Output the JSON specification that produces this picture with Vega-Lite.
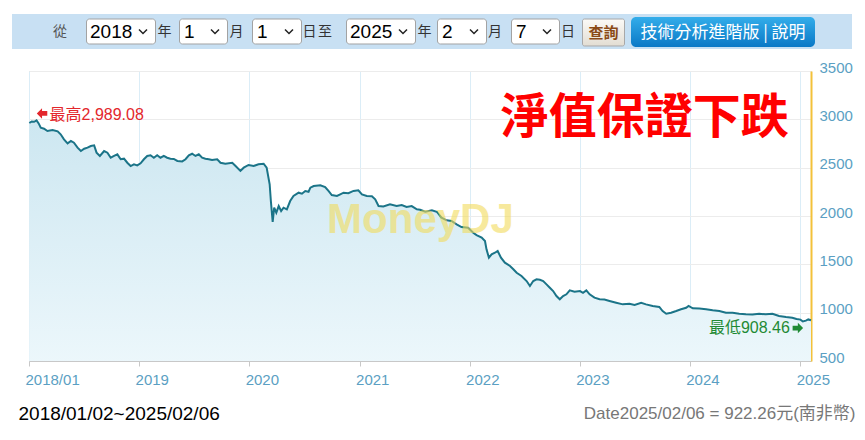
{
  "$schema": "https://vega.github.io/schema/vega-lite/v6.json",
  "background": "white",
  "padding": {"left": 12, "top": 14, "right": 0, "bottom": 0},
  "config": {
    "view": {"stroke": null},
    "axis": {"labelFont": "Liberation Sans", "titleFont": "Liberation Sans"},
    "text": {"font": "Liberation Sans"}
  },
  "spacing": 10,
  "vconcat": [
    {
      "hconcat": [
        {"width": 40, "height": 35, "view": {"fill": "#c8e0f3", "stroke": null}, "data": {"values": [{"t": ""}]}, "mark": {"type": "text"}, "encoding": {"text": {"field": "t"}}},
        {"width": 16, "height": 35, "view": {"fill": "#c8e0f3", "stroke": null}, "data": {"values": [{"t": "從"}]}, "mark": {"type": "text", "font": "Noto Sans CJK TC", "fontSize": 14, "color": "#555555"}, "encoding": {"text": {"field": "t"}}},
        {"width": 18, "height": 35, "view": {"fill": "#c8e0f3", "stroke": null}, "data": {"values": [{"t": ""}]}, "mark": {"type": "text"}, "encoding": {"text": {"field": "t"}}},
        {
          "width": 70, "height": 35, "view": {"fill": "#c8e0f3", "stroke": null}, "data": {"values": [{"t": "2018"}]},
          "encoding": {"x": {"datum": 0, "type": "quantitative", "scale": {"domain": [0, 1]}, "axis": null}, "y": {"datum": 0.5, "type": "quantitative", "scale": {"domain": [0, 1]}, "axis": null}},
          "layer": [
            {"mark": {"type": "rect", "fill": "#ffffff", "stroke": "#a3a3a3", "strokeWidth": 1, "cornerRadius": 3, "xOffset": 0.5, "x2Offset": -0.5}, "encoding": {"x2": {"datum": 1}, "y": {"datum": 0.857}, "y2": {"datum": 0.143}}},
            {"mark": {"type": "text", "align": "left", "dx": 4, "fontSize": 19, "color": "#000000"}, "encoding": {"text": {"field": "t"}}},
            {"mark": {"type": "point", "shape": "M -1 -0.5 L 0 0.5 L 1 -0.5", "filled": false, "stroke": "#222222", "strokeWidth": 1.5, "size": 64, "opacity": 1, "xOffset": -13}, "encoding": {"x": {"datum": 1}}}
          ]
        },
        {"width": 17, "height": 35, "view": {"fill": "#c8e0f3", "stroke": null}, "data": {"values": [{"t": "年"}]}, "mark": {"type": "text", "font": "Noto Sans CJK TC", "fontSize": 14, "color": "#333333"}, "encoding": {"text": {"field": "t"}}},
        {"width": 6, "height": 35, "view": {"fill": "#c8e0f3", "stroke": null}, "data": {"values": [{"t": ""}]}, "mark": {"type": "text"}, "encoding": {"text": {"field": "t"}}},
        {
          "width": 49, "height": 35, "view": {"fill": "#c8e0f3", "stroke": null}, "data": {"values": [{"t": "1"}]},
          "encoding": {"x": {"datum": 0, "type": "quantitative", "scale": {"domain": [0, 1]}, "axis": null}, "y": {"datum": 0.5, "type": "quantitative", "scale": {"domain": [0, 1]}, "axis": null}},
          "layer": [
            {"mark": {"type": "rect", "fill": "#ffffff", "stroke": "#a3a3a3", "strokeWidth": 1, "cornerRadius": 3, "xOffset": 0.5, "x2Offset": -0.5}, "encoding": {"x2": {"datum": 1}, "y": {"datum": 0.857}, "y2": {"datum": 0.143}}},
            {"mark": {"type": "text", "align": "left", "dx": 5, "fontSize": 19, "color": "#000000"}, "encoding": {"text": {"field": "t"}}},
            {"mark": {"type": "point", "shape": "M -1 -0.5 L 0 0.5 L 1 -0.5", "filled": false, "stroke": "#222222", "strokeWidth": 1.5, "size": 64, "opacity": 1, "xOffset": -13}, "encoding": {"x": {"datum": 1}}}
          ]
        },
        {"width": 17, "height": 35, "view": {"fill": "#c8e0f3", "stroke": null}, "data": {"values": [{"t": "月"}]}, "mark": {"type": "text", "font": "Noto Sans CJK TC", "fontSize": 14, "color": "#333333"}, "encoding": {"text": {"field": "t"}}},
        {"width": 7, "height": 35, "view": {"fill": "#c8e0f3", "stroke": null}, "data": {"values": [{"t": ""}]}, "mark": {"type": "text"}, "encoding": {"text": {"field": "t"}}},
        {
          "width": 50, "height": 35, "view": {"fill": "#c8e0f3", "stroke": null}, "data": {"values": [{"t": "1"}]},
          "encoding": {"x": {"datum": 0, "type": "quantitative", "scale": {"domain": [0, 1]}, "axis": null}, "y": {"datum": 0.5, "type": "quantitative", "scale": {"domain": [0, 1]}, "axis": null}},
          "layer": [
            {"mark": {"type": "rect", "fill": "#ffffff", "stroke": "#a3a3a3", "strokeWidth": 1, "cornerRadius": 3, "xOffset": 0.5, "x2Offset": -0.5}, "encoding": {"x2": {"datum": 1}, "y": {"datum": 0.857}, "y2": {"datum": 0.143}}},
            {"mark": {"type": "text", "align": "left", "dx": 5, "fontSize": 19, "color": "#000000"}, "encoding": {"text": {"field": "t"}}},
            {"mark": {"type": "point", "shape": "M -1 -0.5 L 0 0.5 L 1 -0.5", "filled": false, "stroke": "#222222", "strokeWidth": 1.5, "size": 64, "opacity": 1, "xOffset": -13}, "encoding": {"x": {"datum": 1}}}
          ]
        },
        {"width": 15, "height": 35, "view": {"fill": "#c8e0f3", "stroke": null}, "data": {"values": [{"t": "日"}]}, "mark": {"type": "text", "font": "Noto Sans CJK TC", "fontSize": 14, "color": "#333333"}, "encoding": {"text": {"field": "t"}}},
        {"width": 16, "height": 35, "view": {"fill": "#c8e0f3", "stroke": null}, "data": {"values": [{"t": "至"}]}, "mark": {"type": "text", "font": "Noto Sans CJK TC", "fontSize": 14, "color": "#333333"}, "encoding": {"text": {"field": "t"}}},
        {"width": 13, "height": 35, "view": {"fill": "#c8e0f3", "stroke": null}, "data": {"values": [{"t": ""}]}, "mark": {"type": "text"}, "encoding": {"text": {"field": "t"}}},
        {
          "width": 70, "height": 35, "view": {"fill": "#c8e0f3", "stroke": null}, "data": {"values": [{"t": "2025"}]},
          "encoding": {"x": {"datum": 0, "type": "quantitative", "scale": {"domain": [0, 1]}, "axis": null}, "y": {"datum": 0.5, "type": "quantitative", "scale": {"domain": [0, 1]}, "axis": null}},
          "layer": [
            {"mark": {"type": "rect", "fill": "#ffffff", "stroke": "#a3a3a3", "strokeWidth": 1, "cornerRadius": 3, "xOffset": 0.5, "x2Offset": -0.5}, "encoding": {"x2": {"datum": 1}, "y": {"datum": 0.857}, "y2": {"datum": 0.143}}},
            {"mark": {"type": "text", "align": "left", "dx": 4, "fontSize": 19, "color": "#000000"}, "encoding": {"text": {"field": "t"}}},
            {"mark": {"type": "point", "shape": "M -1 -0.5 L 0 0.5 L 1 -0.5", "filled": false, "stroke": "#222222", "strokeWidth": 1.5, "size": 64, "opacity": 1, "xOffset": -13}, "encoding": {"x": {"datum": 1}}}
          ]
        },
        {"width": 17, "height": 35, "view": {"fill": "#c8e0f3", "stroke": null}, "data": {"values": [{"t": "年"}]}, "mark": {"type": "text", "font": "Noto Sans CJK TC", "fontSize": 14, "color": "#333333"}, "encoding": {"text": {"field": "t"}}},
        {"width": 4, "height": 35, "view": {"fill": "#c8e0f3", "stroke": null}, "data": {"values": [{"t": ""}]}, "mark": {"type": "text"}, "encoding": {"text": {"field": "t"}}},
        {
          "width": 50, "height": 35, "view": {"fill": "#c8e0f3", "stroke": null}, "data": {"values": [{"t": "2"}]},
          "encoding": {"x": {"datum": 0, "type": "quantitative", "scale": {"domain": [0, 1]}, "axis": null}, "y": {"datum": 0.5, "type": "quantitative", "scale": {"domain": [0, 1]}, "axis": null}},
          "layer": [
            {"mark": {"type": "rect", "fill": "#ffffff", "stroke": "#a3a3a3", "strokeWidth": 1, "cornerRadius": 3, "xOffset": 0.5, "x2Offset": -0.5}, "encoding": {"x2": {"datum": 1}, "y": {"datum": 0.857}, "y2": {"datum": 0.143}}},
            {"mark": {"type": "text", "align": "left", "dx": 5, "fontSize": 19, "color": "#000000"}, "encoding": {"text": {"field": "t"}}},
            {"mark": {"type": "point", "shape": "M -1 -0.5 L 0 0.5 L 1 -0.5", "filled": false, "stroke": "#222222", "strokeWidth": 1.5, "size": 64, "opacity": 1, "xOffset": -13}, "encoding": {"x": {"datum": 1}}}
          ]
        },
        {"width": 16, "height": 35, "view": {"fill": "#c8e0f3", "stroke": null}, "data": {"values": [{"t": "月"}]}, "mark": {"type": "text", "font": "Noto Sans CJK TC", "fontSize": 14, "color": "#333333"}, "encoding": {"text": {"field": "t"}}},
        {"width": 8, "height": 35, "view": {"fill": "#c8e0f3", "stroke": null}, "data": {"values": [{"t": ""}]}, "mark": {"type": "text"}, "encoding": {"text": {"field": "t"}}},
        {
          "width": 49, "height": 35, "view": {"fill": "#c8e0f3", "stroke": null}, "data": {"values": [{"t": "7"}]},
          "encoding": {"x": {"datum": 0, "type": "quantitative", "scale": {"domain": [0, 1]}, "axis": null}, "y": {"datum": 0.5, "type": "quantitative", "scale": {"domain": [0, 1]}, "axis": null}},
          "layer": [
            {"mark": {"type": "rect", "fill": "#ffffff", "stroke": "#a3a3a3", "strokeWidth": 1, "cornerRadius": 3, "xOffset": 0.5, "x2Offset": -0.5}, "encoding": {"x2": {"datum": 1}, "y": {"datum": 0.857}, "y2": {"datum": 0.143}}},
            {"mark": {"type": "text", "align": "left", "dx": 5, "fontSize": 19, "color": "#000000"}, "encoding": {"text": {"field": "t"}}},
            {"mark": {"type": "point", "shape": "M -1 -0.5 L 0 0.5 L 1 -0.5", "filled": false, "stroke": "#222222", "strokeWidth": 1.5, "size": 64, "opacity": 1, "xOffset": -13}, "encoding": {"x": {"datum": 1}}}
          ]
        },
        {"width": 16, "height": 35, "view": {"fill": "#c8e0f3", "stroke": null}, "data": {"values": [{"t": "日"}]}, "mark": {"type": "text", "font": "Noto Sans CJK TC", "fontSize": 14, "color": "#333333"}, "encoding": {"text": {"field": "t"}}},
        {"width": 6, "height": 35, "view": {"fill": "#c8e0f3", "stroke": null}, "data": {"values": [{"t": ""}]}, "mark": {"type": "text"}, "encoding": {"text": {"field": "t"}}},
        {
          "width": 43, "height": 35, "view": {"fill": "#c8e0f3", "stroke": null}, "data": {"values": [{"t": "查詢"}]},
          "layer": [
            {"mark": {"type": "rect", "fill": {"gradient": "linear", "x1": 0, "y1": 0, "x2": 0, "y2": 1, "stops": [{"offset": 0, "color": "#fbfaf7"}, {"offset": 1, "color": "#e2ddd3"}]}, "stroke": "#a8a8a8", "strokeWidth": 1, "cornerRadius": 2, "xOffset": 0.5, "x2Offset": -0.5},
             "encoding": {"x": {"datum": 0, "type": "quantitative", "scale": {"domain": [0, 1]}, "axis": null}, "x2": {"datum": 1}, "y": {"datum": 0.857, "type": "quantitative", "scale": {"domain": [0, 1]}, "axis": null}, "y2": {"datum": 0.086}}},
            {"mark": {"type": "text", "font": "Noto Sans CJK TC", "fontSize": 15, "fontWeight": "bold", "color": "#8a4a16", "dy": 1}, "encoding": {"text": {"field": "t"}}}
          ]
        },
        {"width": 6, "height": 35, "view": {"fill": "#c8e0f3", "stroke": null}, "data": {"values": [{"t": ""}]}, "mark": {"type": "text"}, "encoding": {"text": {"field": "t"}}},
        {
          "width": 184, "height": 35, "view": {"fill": "#c8e0f3", "stroke": null}, "data": {"values": [{"t": "技術分析進階版 | 說明"}]},
          "layer": [
            {"mark": {"type": "rect", "fill": {"gradient": "linear", "x1": 0, "y1": 0, "x2": 0, "y2": 1, "stops": [{"offset": 0, "color": "#33adea"}, {"offset": 1, "color": "#0a78c6"}]}, "cornerRadius": 5},
             "encoding": {"x": {"datum": 0, "type": "quantitative", "scale": {"domain": [0, 1]}, "axis": null}, "x2": {"datum": 1}, "y": {"datum": 0.914, "type": "quantitative", "scale": {"domain": [0, 1]}, "axis": null}, "y2": {"datum": 0.057}}},
            {"mark": {"type": "text", "font": "Noto Sans CJK TC", "fontSize": 17, "color": "#ffffff", "dy": 1}, "encoding": {"text": {"field": "t"}}}
          ]
        },
        {"width": 37, "height": 35, "view": {"fill": "#c8e0f3", "stroke": null}, "data": {"values": [{"t": ""}]}, "mark": {"type": "text"}, "encoding": {"text": {"field": "t"}}}
      ],
      "spacing": 0,
      "bounds": "flush",
      "resolve": {"scale": {"x": "independent", "y": "independent"}}
    },
    {
      "hconcat": [
        {"width": 17, "height": 290, "view": {"fill": null, "stroke": null}, "data": {"values": [{"t": ""}]}, "mark": {"type": "text"}, "encoding": {"text": {"field": "t"}}},
        {
          "width": 782,
          "height": 290,
          "view": {"stroke": "#d9d9d9", "fill": null},
          "data": {"values": [
            {"date": "2018/01/02", "value": 2962}, {"date": "2018/01/10", "value": 2978}, {"date": "2018/01/18", "value": 2975}, {"date": "2018/01/26", "value": 2989.08},
            {"date": "2018/02/02", "value": 2958}, {"date": "2018/02/09", "value": 2913}, {"date": "2018/02/20", "value": 2903}, {"date": "2018/03/03", "value": 2879},
            {"date": "2018/03/20", "value": 2890}, {"date": "2018/04/06", "value": 2876}, {"date": "2018/04/16", "value": 2845}, {"date": "2018/04/27", "value": 2793},
            {"date": "2018/05/09", "value": 2752}, {"date": "2018/05/20", "value": 2776}, {"date": "2018/05/30", "value": 2758}, {"date": "2018/06/11", "value": 2707},
            {"date": "2018/06/22", "value": 2672}, {"date": "2018/07/03", "value": 2696}, {"date": "2018/07/14", "value": 2707}, {"date": "2018/07/25", "value": 2724},
            {"date": "2018/08/05", "value": 2731}, {"date": "2018/08/13", "value": 2655}, {"date": "2018/08/24", "value": 2621}, {"date": "2018/09/07", "value": 2672},
            {"date": "2018/09/18", "value": 2655}, {"date": "2018/09/29", "value": 2603}, {"date": "2018/10/10", "value": 2621}, {"date": "2018/10/21", "value": 2638},
            {"date": "2018/11/01", "value": 2587}, {"date": "2018/11/12", "value": 2593}, {"date": "2018/11/23", "value": 2551}, {"date": "2018/12/04", "value": 2517},
            {"date": "2018/12/15", "value": 2535}, {"date": "2018/12/26", "value": 2524}, {"date": "2019/01/06", "value": 2545}, {"date": "2019/01/17", "value": 2587},
            {"date": "2019/01/28", "value": 2621}, {"date": "2019/02/08", "value": 2628}, {"date": "2019/02/19", "value": 2603}, {"date": "2019/03/02", "value": 2628},
            {"date": "2019/03/13", "value": 2603}, {"date": "2019/03/24", "value": 2621}, {"date": "2019/04/04", "value": 2603}, {"date": "2019/04/15", "value": 2593},
            {"date": "2019/04/26", "value": 2590}, {"date": "2019/05/08", "value": 2569}, {"date": "2019/05/24", "value": 2565}, {"date": "2019/06/04", "value": 2587},
            {"date": "2019/06/15", "value": 2628}, {"date": "2019/06/26", "value": 2644}, {"date": "2019/07/07", "value": 2621}, {"date": "2019/07/18", "value": 2638},
            {"date": "2019/07/29", "value": 2603}, {"date": "2019/08/09", "value": 2593}, {"date": "2019/08/20", "value": 2587}, {"date": "2019/08/31", "value": 2579},
            {"date": "2019/09/17", "value": 2587}, {"date": "2019/09/28", "value": 2551}, {"date": "2019/10/14", "value": 2541}, {"date": "2019/11/06", "value": 2551},
            {"date": "2019/11/17", "value": 2517}, {"date": "2019/12/03", "value": 2466}, {"date": "2019/12/14", "value": 2500}, {"date": "2019/12/30", "value": 2528},
            {"date": "2020/01/16", "value": 2517}, {"date": "2020/02/01", "value": 2535}, {"date": "2020/02/18", "value": 2541}, {"date": "2020/02/28", "value": 2500},
            {"date": "2020/03/09", "value": 2328}, {"date": "2020/03/13", "value": 2155}, {"date": "2020/03/19", "value": 1940}, {"date": "2020/03/24", "value": 2086},
            {"date": "2020/03/31", "value": 2034}, {"date": "2020/04/08", "value": 2103}, {"date": "2020/04/16", "value": 2052}, {"date": "2020/04/24", "value": 2086},
            {"date": "2020/05/05", "value": 2069}, {"date": "2020/05/16", "value": 2155}, {"date": "2020/05/27", "value": 2207}, {"date": "2020/06/13", "value": 2241},
            {"date": "2020/06/24", "value": 2231}, {"date": "2020/07/05", "value": 2259}, {"date": "2020/07/16", "value": 2251}, {"date": "2020/07/22", "value": 2293},
            {"date": "2020/08/02", "value": 2310}, {"date": "2020/08/24", "value": 2318}, {"date": "2020/09/09", "value": 2300}, {"date": "2020/09/20", "value": 2259},
            {"date": "2020/10/01", "value": 2217}, {"date": "2020/10/18", "value": 2207}, {"date": "2020/10/29", "value": 2224}, {"date": "2020/11/09", "value": 2241},
            {"date": "2020/11/25", "value": 2235}, {"date": "2020/12/12", "value": 2259}, {"date": "2020/12/28", "value": 2266}, {"date": "2021/01/09", "value": 2224},
            {"date": "2021/01/25", "value": 2207}, {"date": "2021/02/11", "value": 2205}, {"date": "2021/02/22", "value": 2173}, {"date": "2021/03/05", "value": 2103},
            {"date": "2021/03/21", "value": 2098}, {"date": "2021/04/12", "value": 2121}, {"date": "2021/05/04", "value": 2103}, {"date": "2021/05/21", "value": 2114},
            {"date": "2021/06/06", "value": 2093}, {"date": "2021/06/23", "value": 2103}, {"date": "2021/07/10", "value": 2069}, {"date": "2021/07/21", "value": 2065},
            {"date": "2021/08/07", "value": 2044}, {"date": "2021/08/29", "value": 2059}, {"date": "2021/09/14", "value": 2044}, {"date": "2021/09/30", "value": 1982},
            {"date": "2021/10/17", "value": 1955}, {"date": "2021/11/02", "value": 1948}, {"date": "2021/11/19", "value": 1914}, {"date": "2021/12/05", "value": 1886},
            {"date": "2021/12/27", "value": 1879}, {"date": "2022/01/13", "value": 1827}, {"date": "2022/01/24", "value": 1803}, {"date": "2022/02/10", "value": 1776},
            {"date": "2022/02/21", "value": 1741}, {"date": "2022/02/26", "value": 1655}, {"date": "2022/03/06", "value": 1569}, {"date": "2022/03/15", "value": 1604},
            {"date": "2022/03/26", "value": 1620}, {"date": "2022/04/04", "value": 1638}, {"date": "2022/04/15", "value": 1569}, {"date": "2022/04/28", "value": 1517},
            {"date": "2022/05/15", "value": 1483}, {"date": "2022/05/26", "value": 1449}, {"date": "2022/06/06", "value": 1413}, {"date": "2022/06/22", "value": 1379},
            {"date": "2022/07/09", "value": 1327}, {"date": "2022/07/20", "value": 1276}, {"date": "2022/07/31", "value": 1327}, {"date": "2022/08/11", "value": 1345},
            {"date": "2022/08/22", "value": 1340}, {"date": "2022/09/02", "value": 1327}, {"date": "2022/09/13", "value": 1293}, {"date": "2022/09/24", "value": 1258},
            {"date": "2022/10/05", "value": 1224}, {"date": "2022/10/16", "value": 1172}, {"date": "2022/10/27", "value": 1138}, {"date": "2022/11/07", "value": 1172},
            {"date": "2022/11/18", "value": 1190}, {"date": "2022/11/29", "value": 1231}, {"date": "2022/12/15", "value": 1217}, {"date": "2023/01/02", "value": 1224},
            {"date": "2023/01/12", "value": 1206}, {"date": "2023/01/23", "value": 1231}, {"date": "2023/02/03", "value": 1190}, {"date": "2023/02/19", "value": 1155},
            {"date": "2023/03/08", "value": 1138}, {"date": "2023/03/24", "value": 1135}, {"date": "2023/04/10", "value": 1121}, {"date": "2023/05/02", "value": 1103},
            {"date": "2023/05/24", "value": 1086}, {"date": "2023/06/15", "value": 1093}, {"date": "2023/07/02", "value": 1079}, {"date": "2023/07/24", "value": 1103},
            {"date": "2023/08/09", "value": 1086}, {"date": "2023/08/31", "value": 1069}, {"date": "2023/09/22", "value": 1059}, {"date": "2023/10/03", "value": 1017},
            {"date": "2023/10/15", "value": 989}, {"date": "2023/10/31", "value": 1000}, {"date": "2023/11/17", "value": 1017}, {"date": "2023/12/03", "value": 1035},
            {"date": "2023/12/20", "value": 1051}, {"date": "2023/12/28", "value": 1069}, {"date": "2024/01/11", "value": 1045}, {"date": "2024/02/02", "value": 1042},
            {"date": "2024/02/24", "value": 1035}, {"date": "2024/03/17", "value": 1024}, {"date": "2024/04/08", "value": 1017}, {"date": "2024/04/30", "value": 1000},
            {"date": "2024/05/22", "value": 998}, {"date": "2024/06/13", "value": 989}, {"date": "2024/07/05", "value": 983}, {"date": "2024/07/27", "value": 980},
            {"date": "2024/08/18", "value": 989}, {"date": "2024/09/09", "value": 983}, {"date": "2024/10/01", "value": 989}, {"date": "2024/10/23", "value": 965},
            {"date": "2024/11/15", "value": 955}, {"date": "2024/12/06", "value": 948}, {"date": "2024/12/20", "value": 935}, {"date": "2025/01/02", "value": 928},
            {"date": "2025/01/10", "value": 908.46}, {"date": "2025/01/20", "value": 918}, {"date": "2025/01/28", "value": 930}, {"date": "2025/02/06", "value": 922.26}
          ]},
          "encoding": {
            "x": {
              "field": "date", "type": "temporal",
              "scale": {"domain": [{"year": 2018, "month": 1, "date": 1}, {"year": 2025, "month": 2, "date": 6}], "nice": false},
              "axis": {
                "values": [{"year": 2018, "month": 1, "date": 1}, {"year": 2019, "month": 1, "date": 1}, {"year": 2020, "month": 1, "date": 1}, {"year": 2021, "month": 1, "date": 1}, {"year": 2022, "month": 1, "date": 1}, {"year": 2023, "month": 1, "date": 1}, {"year": 2024, "month": 1, "date": 1}, {"year": 2025, "month": 1, "date": 1}],
                "labelExpr": "year(datum.value) == 2018 ? '2018/01' : timeFormat(datum.value, '%Y')",
                "grid": true, "gridColor": "#dbedf7", "gridWidth": 1,
                "domainColor": "#c8c8c8", "tickColor": "#c8c8c8", "tickSize": 5,
                "labelColor": "#5b9fc3", "labelFontSize": 15, "labelAlign": "left", "labelOffset": -4, "labelPadding": 6, "labelFlush": false, "labelOverlap": false,
                "title": "2018/01/02~2025/02/06", "titleColor": "#000000", "titleFontSize": 19, "titleFontWeight": "normal",
                "titleAlign": "left", "titleBaseline": "middle", "titleX": -11, "titleY": 52
              }
            },
            "y": {
              "field": "value", "type": "quantitative",
              "scale": {"domain": [500, 3500], "zero": false, "nice": false},
              "axis": {
                "orient": "right", "values": [500, 1000, 1500, 2000, 2500, 3000, 3500], "format": "d",
                "grid": true, "gridColor": "#ececec", "ticks": false,
                "domainColor": "#f3c13a", "domainWidth": 2,
                "labelColor": "#5b9fc3", "labelFontSize": 15, "labelPadding": 8, "labelOffset": -4, "labelFlush": false,
                "title": "Date2025/02/06 = 922.26元(南非幣)", "titleColor": "#777777", "titleFontSize": 17, "titleFontWeight": "normal",
                "titleFont": "Liberation Sans, Noto Sans CJK TC",
                "titleAngle": 0, "titleAlign": "right", "titleBaseline": "middle", "titleX": 44, "titleY": 342
              }
            }
          },
          "layer": [
            {"mark": {"type": "area", "clip": true, "fill": {"gradient": "linear", "x1": 0, "y1": 0, "x2": 0, "y2": 1, "stops": [{"offset": 0, "color": "#cde7f1"}, {"offset": 1, "color": "#f2fafd"}]}}},
            {"mark": {"type": "line", "color": "#1b7488", "strokeWidth": 2}},
            {
              "data": {"values": [{"date": "2021/07/22", "value": 1827, "t": "MoneyDJ"}]},
              "mark": {"type": "text", "fontSize": 42, "fontWeight": "bold", "color": "#f2dc5d", "opacity": 0.6, "baseline": "alphabetic", "align": "center", "font": "Liberation Sans"},
              "encoding": {"text": {"field": "t"}}
            },
            {
              "data": {"values": [{"date": "2023/08/05", "value": 3003, "t": "淨值保證下跌"}]},
              "mark": {"type": "text", "fontSize": 48, "fontWeight": "bold", "color": "#ff0000", "baseline": "middle", "align": "center", "font": "Noto Sans CJK TC"},
              "encoding": {"text": {"field": "t"}}
            },
            {
              "data": {"values": [{"date": "2018/01/26", "value": 2989.08, "label": "最高2,989.08"}]},
              "layer": [
                {"mark": {"type": "point", "shape": "M -1 0 L 0 -1 L 0 -0.45 L 1 -0.45 L 1 0.45 L 0 0.45 L 0 1 Z", "filled": true, "color": "#e3262c", "size": 110, "opacity": 1, "xOffset": 5.5, "yOffset": -7}},
                {"mark": {"type": "text", "align": "left", "baseline": "middle", "dx": 13, "dy": -5.5, "fontSize": 16, "font": "Liberation Sans, Noto Sans CJK TC", "color": "#e3262c"}, "encoding": {"text": {"field": "label"}}}
              ]
            },
            {
              "data": {"values": [{"date": "2025/01/10", "value": 908.46, "label": "最低908.46"}]},
              "layer": [
                {"mark": {"type": "point", "shape": "M 1 0 L 0 -1 L 0 -0.45 L -1 -0.45 L -1 0.45 L 0 0.45 L 0 1 Z", "filled": true, "color": "#1f8a34", "size": 110, "opacity": 1, "xOffset": -5, "yOffset": 6.5}},
                {"mark": {"type": "text", "align": "right", "baseline": "middle", "dx": -13, "dy": 6.5, "fontSize": 16, "font": "Liberation Sans, Noto Sans CJK TC", "color": "#1f8a34"}, "encoding": {"text": {"field": "label"}}}
              ]
            }
          ]
        }
      ],
      "spacing": 0,
      "bounds": "flush"
    }
  ]
}
